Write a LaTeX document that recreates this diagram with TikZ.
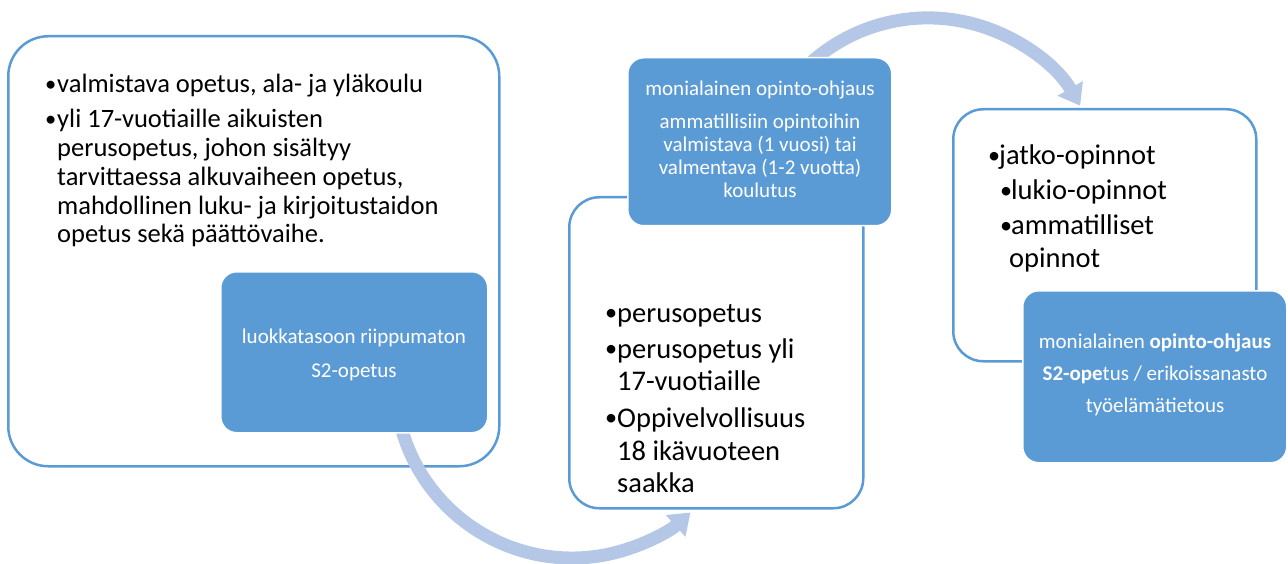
\documentclass[tikz,border=0pt]{standalone}
\usepackage{fontspec}
\usepackage{graphicx}
\setmainfont{Carlito}
\usetikzlibrary{arrows.meta}
\definecolor{acc}{HTML}{5B9BD5}
\definecolor{arr}{HTML}{B4C7E7}
\tikzset{
  outerbox/.style={draw=acc, line width=2.5pt, fill=white, anchor=north west, inner sep=0pt},
  bluebox/.style={draw=white, line width=1.5pt, fill=acc, rounded corners=16pt, anchor=north west, inner sep=0pt},
  flow/.style={draw=arr, line width=13pt, -{Triangle[length=20pt,width=28pt]}},
  lineA/.style={anchor=base west, inner sep=0pt, font=\fontsize{26.5}{29}\selectfont},
  lineB/.style={anchor=base west, inner sep=0pt, font=\fontsize{28.5}{31}\selectfont},
  lineW/.style={anchor=base, inner sep=0pt, text=white, font=\fontsize{21}{23}\selectfont},
}
\newcommand{\bul}[1]{\makebox[#1][l]{\raisebox{0.06em}{\scalebox{0.85}{\textbullet}}}}
\begin{document}
\begin{tikzpicture}[x=1pt,y=1pt]
\useasboundingbox (0,0) rectangle (1288,-564);
% box 1
\node[outerbox, rounded corners=40pt, minimum width=491pt, minimum height=430pt] (box1) at (7,-35) {};
\coordinate (c1) at (572,-381);
\draw[flow] ([shift={(195:177)}]c1) arc[start angle=195, end angle=312, radius=177];
\node[bluebox, minimum width=267pt, minimum height=161pt] (blue1) at (220,-271) {};
\node[lineA] (a1) at (45,-93) {\bul{12pt}valmistava opetus, ala- ja yläkoulu};
\node[lineA] (a2) at (45,-128) {\bul{12pt}yli 17-vuotiaille aikuisten};
\node[lineA] (a3) at (57,-157) {perusopetus, johon sisältyy};
\node[lineA] (a4) at (57,-186) {tarvittaessa alkuvaiheen opetus,};
\node[lineA] (a5) at (57,-215) {mahdollinen luku- ja kirjoitustaidon};
\node[lineA] (a6) at (57,-243) {opetus sekä päättövaihe.};
\node[lineW] (w1) at (354,-343) {luokkatasoon riippumaton};
\node[lineW] (w2) at (354,-377) {S2-opetus};
% box 2
\node[outerbox, rounded corners=30pt, minimum width=294pt, minimum height=311pt] (box2) at (568,-196) {};
\coordinate (c2) at (928,-193.6);
\draw[flow] ([shift={(135:175.7)}]c2) arc[start angle=135, end angle=30, radius=175.7];
\node[bluebox, minimum width=264pt, minimum height=168pt] (blue2) at (627,-57) {};
\node[lineW] (v1) at (760,-96) {monialainen opinto-ohjaus};
\node[lineW] (v2) at (760,-129) {ammatillisiin opintoihin};
\node[lineW] (v3) at (760,-152) {valmistava (1 vuosi) tai};
\node[lineW] (v4) at (760,-175) {valmentava (1-2 vuotta)};
\node[lineW] (v5) at (760,-198) {koulutus};
\node[lineB] (b1) at (605,-322) {\bul{12pt}perusopetus};
\node[lineB] (b2) at (605,-358) {\bul{12pt}perusopetus yli};
\node[lineB] (b3) at (617,-390) {17-vuotiaille};
\node[lineB] (b4) at (605,-427) {\bul{12pt}Oppivelvollisuus};
\node[lineB] (b5) at (617,-460) {18 ikävuoteen};
\node[lineB] (b6) at (617,-492) {saakka};
% box 3
\node[outerbox, rounded corners=30pt, minimum width=303pt, minimum height=252pt] (box3) at (952,-108) {};
\node[bluebox, minimum width=264pt, minimum height=172pt] (blue3) at (1022,-290) {};
\node[lineB] (d1) at (988,-165) {\bul{11pt}jatko-opinnot};
\node[lineB] (d2) at (1000,-200) {\bul{11pt}lukio-opinnot};
\node[lineB] (d3) at (1000,-235) {\bul{11pt}ammatilliset};
\node[lineB] (d4) at (1009,-267) {opinnot};
\node[lineW] (u1) at (1155,-348) {monialainen \textbf{opinto-ohjaus}};
\node[lineW] (u2) at (1155,-380) {\textbf{S2-ope}tus / erikoissanasto};
\node[lineW] (u3) at (1155,-412) {työelämätietous};
\end{tikzpicture}
\end{document}
